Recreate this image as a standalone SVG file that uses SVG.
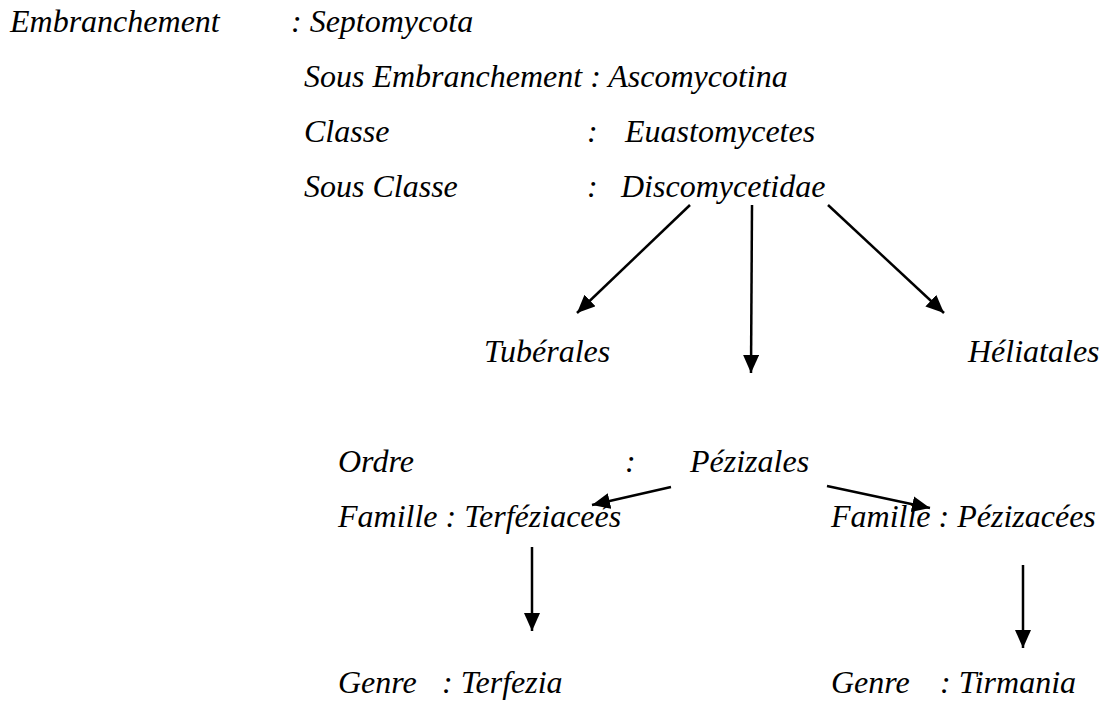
<svg xmlns="http://www.w3.org/2000/svg" width="1102" height="702" viewBox="0 0 1102 702">
<style>
text{font-family:"Liberation Serif","Times New Roman",serif;font-style:italic;font-size:32px;fill:#000}
.c line{stroke:#000;stroke-width:2.5;marker-end:url(#ah)}
</style>
<defs>
<marker id="ah" markerUnits="userSpaceOnUse" markerWidth="20" markerHeight="18" refX="18" refY="8" orient="auto">
<path d="M0,0 L18,8 L0,16 z" fill="#000"/>
</marker>
</defs>
<rect width="1102" height="702" fill="#fff"/>
<g id="embranchement"><text x="10" y="32">Embranchement</text><text x="291" y="32">: Septomycota</text></g>
<g id="sous-embranchement"><text x="304" y="87">Sous Embranchement : Ascomycotina</text></g>
<g id="classe"><text x="304" y="142">Classe</text><text x="587" y="142">:</text><text x="625" y="142">Euastomycetes</text></g>
<g id="sous-classe"><text x="304" y="197">Sous Classe</text><text x="587" y="197">:</text><text x="621" y="197">Discomycetidae</text></g>
<g id="tuberales"><text x="484" y="362">Tubérales</text></g>
<g id="heliatales"><text x="968" y="362">Héliatales</text></g>
<g id="ordre"><text x="338" y="472">Ordre</text><text x="625" y="472">:</text><text x="690" y="472">Pézizales</text></g>
<g id="terfeziacees"><text x="338" y="527">Famille : Terféziaceés</text></g>
<g id="pezizacees"><text x="831" y="527">Famille : Pézizacées</text></g>
<g id="terfezia"><text x="338" y="693">Genre</text><text x="442" y="693">: Terfezia</text></g>
<g id="tirmania"><text x="831" y="693">Genre</text><text x="940" y="693">: Tirmania</text></g>
<g id="connectors" class="c">
<line x1="690" y1="205" x2="577" y2="313"/>
<line x1="752" y1="205" x2="751" y2="373"/>
<line x1="828" y1="205" x2="944" y2="313"/>
<line x1="671" y1="487" x2="592" y2="505"/>
<line x1="827" y1="486" x2="930" y2="508"/>
<line x1="532" y1="547" x2="532" y2="631"/>
<line x1="1023" y1="565" x2="1023" y2="648"/>
</g>
</svg>
